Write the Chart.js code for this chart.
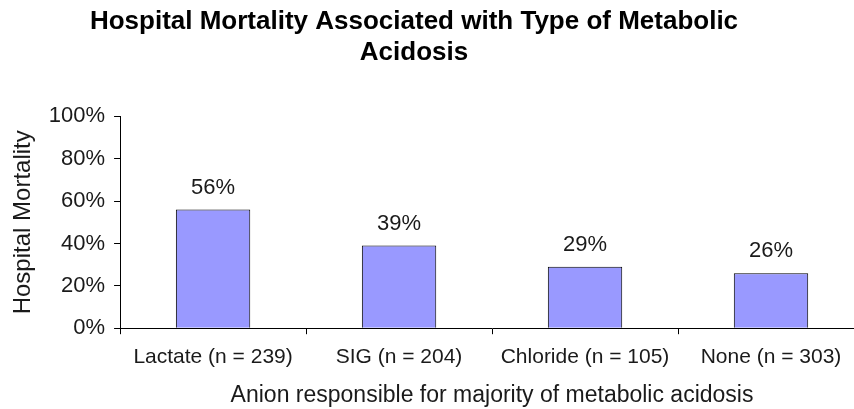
<!DOCTYPE html>
<html>
<head>
<meta charset="utf-8">
<script src="https://cdn.jsdelivr.net/npm/chart.js@4"></script>
<style>
  html, body { margin: 0; padding: 0; background: #fff; overflow: hidden; }
  #wrap { width: 854px; height: 409px; overflow: hidden; position: relative; }
  #mortality-chart { position: absolute; left: -36px; top: 0; }
</style>
</head>
<body>
<div id="wrap"><canvas id="mortality-chart" width="900" height="409"></canvas></div>
<script>
const categories = ['Lactate (n = 239)', 'SIG (n = 204)', 'Chloride (n = 105)', 'None (n = 303)'];
const mortality = [56, 39, 29, 26];
const yTicks = [0, 20, 40, 60, 80, 100];

const FONT = '"Liberation Sans", Arial, sans-serif';

// percentage above each bar
const barLabels = {
    id: 'barLabels',
    afterDatasetsDraw(chart) {
        const ctx = chart.ctx;
        const meta = chart.getDatasetMeta(0);
        ctx.save();
        ctx.font = '22px ' + FONT;
        ctx.fillStyle = '#1a1a1a';
        ctx.textAlign = 'center';
        ctx.textBaseline = 'middle';
        meta.data.forEach((bar, i) => {
            ctx.fillText(mortality[i] + '%', bar.x, bar.y - 22);
        });
        ctx.restore();
    }
};

const ctx = document.getElementById('mortality-chart').getContext('2d');
new Chart(ctx, {
    type: 'bar',
    data: {
        labels: categories,
        datasets: [{
            data: mortality,
            backgroundColor: '#9999ff',
            borderColor: '#000',
            borderWidth: 1,
            borderSkipped: 'bottom',
            categoryPercentage: 0.4,
            barPercentage: 1
        }]
    },
    options: {
        responsive: false,
        animation: false,
        layout: { padding: 0 },
        plugins: {
            legend: { display: false },
            tooltip: { enabled: false },
            title: {
                display: true,
                text: ['Hospital Mortality Associated with Type of Metabolic', 'Acidosis'],
                color: '#000',
                font: { family: FONT, size: 26, weight: 'bold', lineHeight: 1.2 },
                padding: { top: 6, bottom: 48 }
            }
        },
        scales: {
            x: {
                grid: { display: true, drawOnChartArea: false, drawTicks: true, tickLength: 6, offset: true, color: '#000' },
                border: { color: '#000', width: 1 },
                ticks: {
                    color: '#1a1a1a',
                    font: { family: FONT, size: 21 },
                    padding: 10,
                    maxRotation: 0,
                    autoSkip: false
                },
                title: {
                    display: true,
                    text: 'Anion responsible for majority of metabolic acidosis',
                    color: '#1a1a1a',
                    font: { family: FONT, size: 23 },
                    padding: { top: 2, bottom: 0 }
                }
            },
            y: {
                min: 0,
                max: 100,
                afterBuildTicks: axis => { axis.ticks = yTicks.map(v => ({ value: v })); },
                grid: { display: true, drawOnChartArea: false, drawTicks: true, tickLength: 6, color: '#000' },
                border: { color: '#000', width: 1 },
                ticks: {
                    color: '#1a1a1a',
                    font: { family: FONT, size: 22 },
                    padding: 9,
                    callback: v => v + '%'
                },
                title: {
                    display: true,
                    text: 'Hospital Mortality',
                    color: '#1a1a1a',
                    font: { family: FONT, size: 24 },
                    padding: { top: 45, bottom: 2 }
                }
            }
        }
    },
    plugins: [barLabels]
});
</script>
</body>
</html>
